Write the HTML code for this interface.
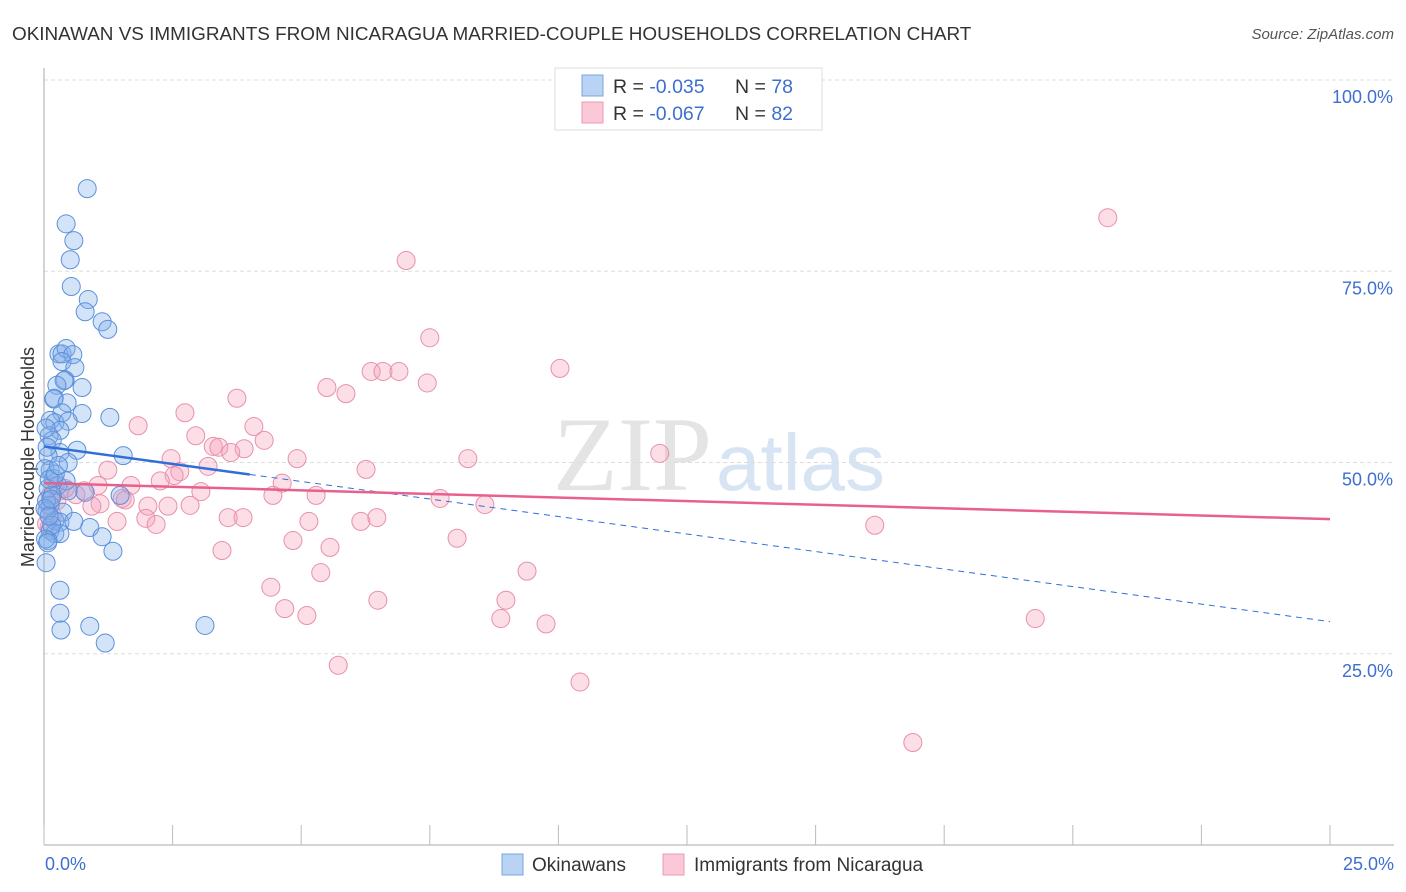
<!DOCTYPE html>
<html><head><meta charset="utf-8"><style>
body{margin:0;background:#fff;font-family:"Liberation Sans",sans-serif;}
svg{display:block}
</style></head><body>
<svg id="chart" width="1406" height="892">
<text x="12" y="40" font-size="18.9" fill="#333">OKINAWAN VS IMMIGRANTS FROM NICARAGUA MARRIED-COUPLE HOUSEHOLDS CORRELATION CHART</text>
<text x="1394" y="39" font-size="15" fill="#555" font-style="italic" text-anchor="end">Source: ZipAtlas.com</text>
<text transform="translate(34,457) rotate(-90)" font-size="18" fill="#333" text-anchor="middle">Married-couple Households</text>
<g>
<text x="553" y="490" font-family="Liberation Serif,serif" font-size="106" fill="#d8d8d8" fill-opacity="0.7">ZIP</text>
<text x="716" y="490" font-size="80" fill="#c5d8ef" fill-opacity="0.7">atlas</text>
</g>
<g id="grid"></g>
<g id="axes"></g>
<g id="pts"></g>
<g id="trends"></g>
<g>
<rect x="555" y="68" width="267" height="62" fill="#fff" stroke="#ddd"/>
<rect x="582" y="75" width="21" height="21" fill="#b9d3f5" stroke="#7aa6e0"/>
<rect x="582" y="102" width="21" height="21" fill="#fac8d6" stroke="#eb9ab3"/>
<text x="613" y="93" font-size="19.5" fill="#333">R = <tspan fill="#3d6fd0">-0.035</tspan><tspan x="735">N = </tspan><tspan fill="#3d6fd0">78</tspan></text>
<text x="613" y="120" font-size="19.5" fill="#333">R = <tspan fill="#3d6fd0">-0.067</tspan><tspan x="735">N = </tspan><tspan fill="#3d6fd0">82</tspan></text>
</g>
<g>
<rect x="502" y="854" width="21" height="21" fill="#b9d3f5" stroke="#7aa6e0"/>
<text x="532" y="871" font-size="19" fill="#333">Okinawans</text>
<rect x="663" y="854" width="21" height="21" fill="#fac8d6" stroke="#eb9ab3"/>
<text x="694" y="871" font-size="19" fill="#333">Immigrants from Nicaragua</text>
</g>
</svg>
<script>
const yTicks=[25,50,75,100];
const yTickLabels=["25.0%","50.0%","75.0%","100.0%"];
const xTickCount=10;
const xLabels=["0.0%","25.0%"];
const blueX=[0.84,0.43,0.58,0.51,0.53,0.86,0.80,1.13,1.24,0.29,0.35,0.43,0.56,0.35,0.6,0.41,0.39,0.74,0.25,0.2,0.19,0.45,0.74,1.28,0.35,0.12,0.21,0.47,0.31,0.1,0.16,0.64,1.54,0.31,0.08,0.47,0.12,0.02,0.19,0.27,0.43,0.47,0.08,0.16,0.8,1.48,0.12,0.06,0.37,0.21,0.31,0.58,0.89,0.12,0.21,0.31,0.08,1.13,1.34,0.04,0.31,0.31,0.33,0.89,1.19,3.13,0.05,0.1,0.02,0.15,0.03,0.06,0.22,0.1,0.04,0.28,0.14,0.07];
const blueY=[85.8,81.2,79.0,76.5,73.0,71.3,69.7,68.4,67.4,64.2,64.2,64.9,64.1,63.2,62.4,60.8,60.7,59.8,60.1,58.4,58.3,57.8,56.4,55.9,56.5,55.5,55.2,55.4,54.2,53.5,52.9,51.6,50.9,51.3,50.9,50.0,49.0,49.2,47.9,47.0,47.6,46.3,46.6,45.7,46.1,45.7,44.4,43.7,43.5,42.4,42.2,42.3,41.5,41.1,40.7,40.7,39.8,40.3,38.4,36.9,33.3,30.3,28.1,28.6,26.4,28.7,45.0,47.8,44.0,41.8,40.0,52.0,48.5,43.0,54.5,49.6,45.2,39.5];
const pinkX=[20.68,7.04,7.5,10.03,6.36,6.59,6.9,5.5,7.45,5.87,3.75,2.74,1.83,4.08,2.95,4.28,3.29,3.4,3.89,3.63,2.47,4.92,8.24,11.97,3.19,2.64,2.53,1.24,6.26,2.26,1.69,4.63,1.05,0.78,0.62,3.05,1.52,1.58,4.45,5.29,7.7,1.09,0.93,2.02,2.41,2.84,8.57,1.98,1.42,2.18,3.58,3.87,5.15,6.16,6.47,16.15,4.84,8.03,5.56,3.46,5.38,9.39,4.41,6.49,8.98,4.68,5.11,8.88,9.76,19.27,5.72,10.42,16.89,0.12,0.21,0.31,0.41,0.08,0.16,0.05,0.25,0.1];
const pinkY=[82.0,76.4,66.3,62.3,61.9,61.9,61.9,59.8,60.4,59.0,58.4,56.5,54.8,54.7,53.5,52.9,52.1,52.0,51.8,51.3,50.5,50.5,50.5,51.2,49.5,48.8,48.3,49.0,49.1,47.6,47.0,47.3,47.0,46.3,45.8,46.2,45.3,45.1,45.7,45.7,45.3,44.6,44.3,44.3,44.3,44.4,44.5,42.7,42.3,41.9,42.8,42.8,42.3,42.3,42.8,41.8,39.8,40.1,38.9,38.5,35.6,35.8,33.7,32.0,32.0,30.9,30.0,29.6,28.9,29.6,23.5,21.3,13.4,45.7,47.0,46.3,46.6,44.4,43.1,42.0,45.0,41.5];
const blueTrend=[52.1,29.2];
const pinkTrend=[47.3,42.6];
const NS="http://www.w3.org/2000/svg";
const X0=44,X1=1330,Y0=845,Y100=80;
function sx(v){return X0+(X1-X0)*v/25;}
function sy(v){return Y0-(Y0-Y100)*v/100;}
function mk(tag,attrs,parent){const e=document.createElementNS(NS,tag);for(const k in attrs)e.setAttribute(k,attrs[k]);parent.appendChild(e);return e;}
const grid=document.getElementById('grid'),axes=document.getElementById('axes');
yTicks.forEach((t,i)=>{
 const l=mk('line',{x1:X0,x2:1394,y1:sy(t),y2:sy(t),stroke:'#ddd','stroke-dasharray':'4,3'},grid);
 
 
 const tx=mk('text',{x:1393,y:sy(t)+23,'font-size':18,fill:'#3d6fd0','text-anchor':'end'},axes);
 tx.textContent=yTickLabels[i];
 
 
});
const ya=mk('line',{x1:X0,x2:X0,y1:68,y2:Y0,stroke:'#aaa'},axes);


const xa=mk('line',{x1:X0,x2:1394,y1:Y0,y2:Y0,stroke:'#aaa'},axes);


for(let i=0;i<=xTickCount;i++){
 const v=25*i/xTickCount;
 const t=mk('line',{x1:sx(v),x2:sx(v),y1:825,y2:Y0,stroke:'#bbb'},axes);
 
 
}
[[0,'start',45],[25,'end',1394]].forEach((a,i)=>{
 const t=mk('text',{x:a[2],y:870,'font-size':18,fill:'#3d6fd0','text-anchor':a[1]},axes);
 t.textContent=xLabels[i];
 
 
});
const pts=document.getElementById('pts');
pinkX.forEach((x,i)=>{
 const c=mk('circle',{cx:sx(x),cy:sy(pinkY[i]),r:9,fill:'rgba(245,160,185,0.35)',stroke:'#e890ac','stroke-width':1},pts);
 
 
});
blueX.forEach((x,i)=>{
 const c=mk('circle',{cx:sx(x),cy:sy(blueY[i]),r:9,fill:'rgba(130,175,235,0.35)',stroke:'#5d90da','stroke-width':1},pts);
 
 
});
const tr=document.getElementById('trends');
const bm=blueTrend[0]+(blueTrend[1]-blueTrend[0])*4/25;
const b1=mk('line',{x1:sx(0),y1:sy(blueTrend[0]),x2:sx(4),y2:sy(bm),stroke:'#2f6fd6','stroke-width':2.5},tr);


const b2=mk('line',{x1:sx(4),y1:sy(bm),x2:sx(25),y2:sy(blueTrend[1]),stroke:'#2f6fd6','stroke-width':1,'stroke-dasharray':'6,5'},tr);


const p1=mk('line',{x1:sx(0),y1:sy(pinkTrend[0]),x2:sx(25),y2:sy(pinkTrend[1]),stroke:'#e8608c','stroke-width':2.5},tr);


</script>
</body></html>
